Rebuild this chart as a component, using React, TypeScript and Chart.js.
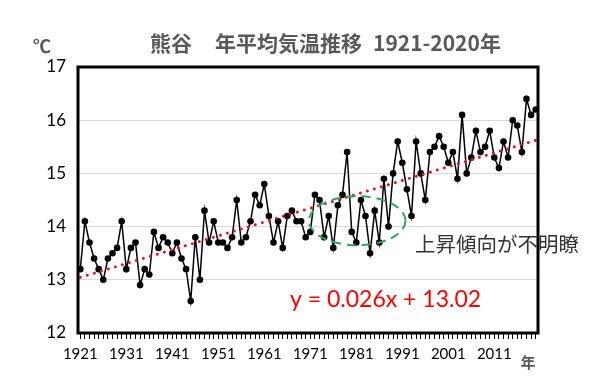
import { useEffect, useRef } from 'react';
import { Chart, registerables } from 'chart.js';

Chart.register(...registerables);

const yearLabels: string[] = Array.from({ length: 100 }, (_, i) => String(1921 + i));

const annualMeanTemp: number[] = [
  13.2, 14.1, 13.7, 13.4, 13.2, 13.0, 13.4, 13.5, 13.6, 14.1,
  13.2, 13.6, 13.7, 12.9, 13.2, 13.1, 13.9, 13.6, 13.8, 13.7,
  13.5, 13.7, 13.4, 13.2, 12.6, 13.8, 13.0, 14.3, 13.7, 14.1,
  13.7, 13.7, 13.6, 13.8, 14.5, 13.7, 13.8, 14.1, 14.6, 14.4,
  14.8, 14.2, 13.7, 14.1, 13.6, 14.2, 14.3, 14.1, 14.1, 13.8,
  13.9, 14.6, 14.5, 13.8, 14.2, 13.6, 14.4, 14.6, 15.4, 13.9,
  13.7, 14.5, 14.2, 13.5, 14.3, 13.7, 14.9, 14.0, 15.0, 15.6,
  15.2, 14.7, 14.2, 15.6, 15.0, 14.5, 15.4, 15.5, 15.7, 15.5,
  15.2, 15.4, 14.9, 16.1, 15.0, 15.3, 15.8, 15.4, 15.5, 15.8,
  15.3, 15.1, 15.6, 15.3, 16.0, 15.9, 15.4, 16.4, 16.1, 16.2,
];

// Linear trend y = 0.026x + 13.02 (x = 1 for 1921 ... 100 for 2020): end points
const trendYears: string[] = ['1921', '2020'];
const trendValues: number[] = [13.046, 15.62];

const yMin = 12;
const yMax = 17;

const titleParts: string[] = ['熊谷', '年平均気温推移', '1921-2020年'];
const unitLabel = '℃';
const xUnitLabel = '年';
const equationText = 'y = 0.026x + 13.02';
const noteText = '上昇傾向が不明瞭';

// ellipse highlight (data coordinates)
const ellipseCenterYear = 1981.2;
const ellipseCenterTemp = 14.11;
const ellipseHalfYears = 10.5;
const ellipseHalfTemp = 0.46;

const overlayPlugin = {
  id: 'overlay',
  afterDatasetsDraw(chart: any) {
    const ctx = chart.ctx as CanvasRenderingContext2D;
    const xs = chart.scales.x;
    const ys = chart.scales.y;
    const step = xs.getPixelForValue(1) - xs.getPixelForValue(0);
    const cx = xs.getPixelForValue(ellipseCenterYear - 1921);
    const cy = ys.getPixelForValue(ellipseCenterTemp);
    const rx = ellipseHalfYears * step;
    const ry = Math.abs(ys.getPixelForValue(ellipseCenterTemp + ellipseHalfTemp) - cy);
    ctx.save();
    ctx.strokeStyle = '#2ea55a';
    ctx.lineWidth = 2;
    ctx.setLineDash([9, 6]);
    ctx.beginPath();
    ctx.ellipse(cx, cy, rx, ry, 0, 0, Math.PI * 2);
    ctx.stroke();
    ctx.restore();
  },
  afterDraw(chart: any) {
    const ctx = chart.ctx as CanvasRenderingContext2D;
    const { left, top, right, bottom } = chart.chartArea;
    ctx.save();
    // frame
    ctx.strokeStyle = '#000';
    ctx.lineWidth = 3;
    ctx.setLineDash([]);
    ctx.strokeRect(left, top, right - left, bottom - top);

    // title
    ctx.fillStyle = '#595959';
    ctx.textBaseline = 'middle';
    ctx.textAlign = 'left';
    ctx.font = 'bold 21px "Noto Sans CJK JP"';
    ctx.fillText(titleParts[0], 150, 43);
    ctx.fillText(titleParts[1], 215, 43);
    ctx.fillText(titleParts[2], 373, 43);

    ctx.font = 'bold 18px "Noto Sans CJK JP"';
    ctx.fillText(unitLabel, 33, 46);

    ctx.textAlign = 'center';
    ctx.font = 'bold 15px "Noto Sans CJK JP"';
    ctx.fillText(xUnitLabel, 528, 362);

    // equation
    ctx.textAlign = 'left';
    ctx.fillStyle = '#ff0000';
    ctx.font = '23px Lato';
    ctx.fillText(equationText, 290, 300);

    // note
    ctx.fillStyle = '#333333';
    ctx.font = '20.5px "Noto Sans CJK JP"';
    ctx.fillText(noteText, 415, 244);
    ctx.restore();
  },
};

export default function App() {
  const ref = useRef<HTMLCanvasElement>(null);
  useEffect(() => {
    if (!ref.current) return;
    const chart = new Chart(ref.current, {
      type: 'line',
      data: {
        labels: yearLabels,
        datasets: [
          {
            label: 'trend',
            data: trendYears.map((y, i) => ({ x: y, y: trendValues[i] })) as any,
            borderColor: '#e8112d',
            borderWidth: 3,
            borderDash: [0.01, 7.3],
            borderCapStyle: 'round',
            pointRadius: 0,
            fill: false,
            order: 0,
          },
          {
            label: 'temp',
            data: annualMeanTemp,
            borderColor: '#000',
            borderWidth: 1.5,
            pointRadius: 3.3,
            pointBackgroundColor: '#000',
            pointBorderWidth: 0,
            fill: false,
            order: 1,
          },
        ],
      },
      options: {
        animation: false,
        responsive: true,
        maintainAspectRatio: false,
        layout: { padding: { top: 67, right: 71, left: 0, bottom: 0 } },
        plugins: { legend: { display: false }, tooltip: { enabled: false }, title: { display: false } },
        scales: {
          x: {
            type: 'category',
            offset: true,
            grid: { offset: false, drawOnChartArea: false, drawTicks: true, tickLength: 6, color: '#000' },
            border: { display: false },
            ticks: {
              autoSkip: false,
              maxRotation: 0,
              minRotation: 0,
              padding: 6,
              color: '#000',
              font: { family: 'Lato', size: 15 },
              callback: (_v: any, i: number) => (i % 10 === 0 ? yearLabels[i] : ''),
            },
            afterFit: (s: any) => { s.height = 58; },
          },
          y: {
            min: yMin,
            max: yMax,
            ticks: { stepSize: 1, padding: 12, color: '#000', font: { family: 'Lato', size: 17 } },
            grid: { color: '#d9d9d9', drawTicks: false },
            border: { display: false },
            afterFit: (s: any) => { s.width = 78; },
          },
        },
      },
      plugins: [overlayPlugin],
    });
    return () => chart.destroy();
  }, []);
  return (
    <div style={{ position: 'fixed', left: 0, top: 0, width: 609, height: 391, background: '#fff' }}>
      <canvas ref={ref} />
    </div>
  );
}
